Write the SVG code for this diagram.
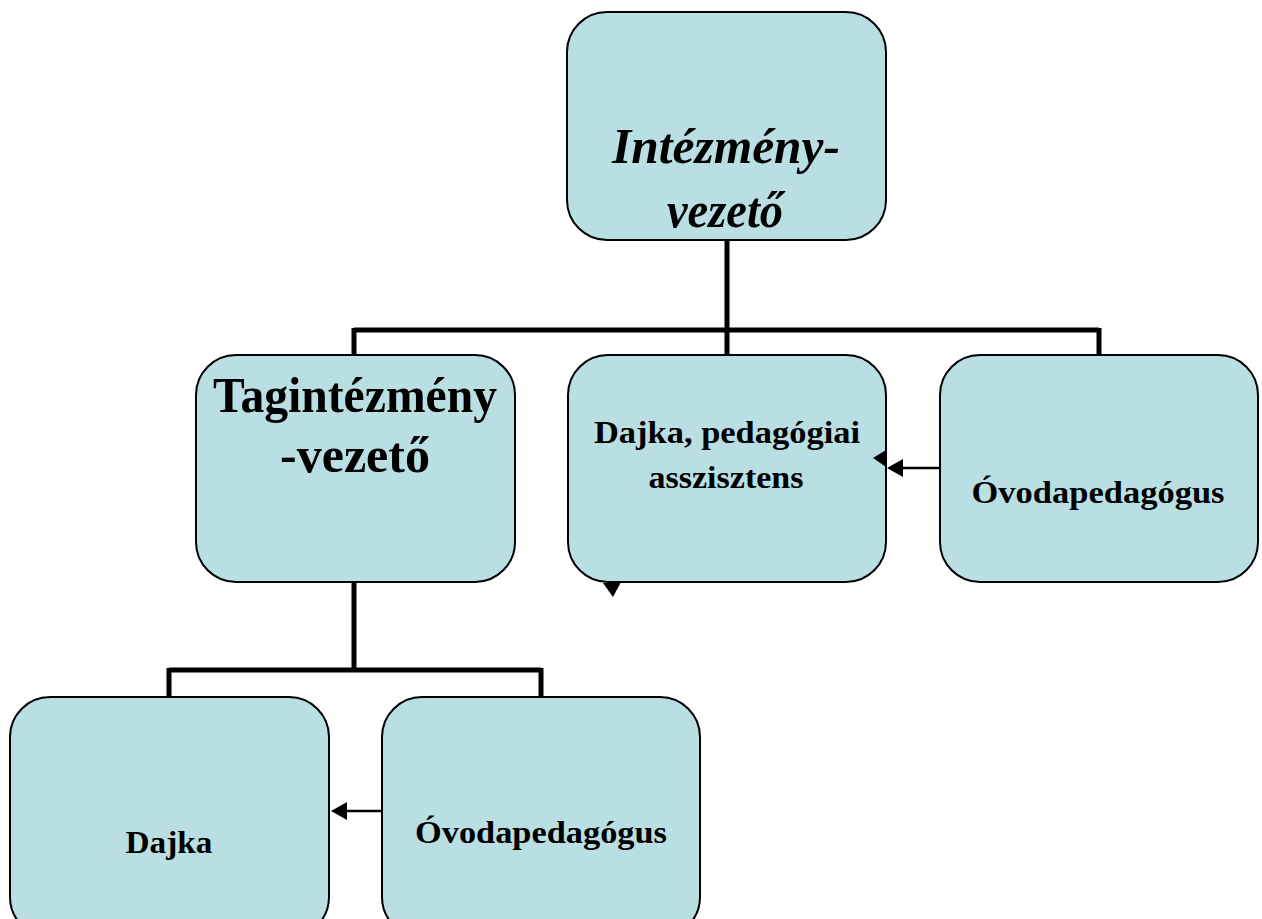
<svg xmlns="http://www.w3.org/2000/svg" width="1262" height="919" viewBox="0 0 1262 919">
<style>
.box{fill:#badfe3;stroke:#000;stroke-width:2}
.t{font-family:"Liberation Serif","Times New Roman",serif;font-weight:bold;fill:#000;text-anchor:middle}
.big{font-size:50px}
.sm{font-size:31px}
.conn{fill:none;stroke:#000;stroke-width:5}
.arr{fill:none;stroke:#000;stroke-width:2.5}
</style>
<rect width="1262" height="919" fill="#fff"/>
<g id="n-intezmenyvezeto">
<rect class="box" x="567" y="12" width="319" height="228" rx="40"/>
<text class="t big" x="726" y="163" font-style="italic" textLength="228" lengthAdjust="spacingAndGlyphs">Intézmény-</text>
<text class="t big" x="725" y="227" font-style="italic" textLength="116" lengthAdjust="spacingAndGlyphs">vezető</text>
</g>
<g id="n-tagintezmenyvezeto">
<rect class="box" x="196" y="355" width="319" height="227" rx="40"/>
<text class="t big" x="355" y="412" textLength="284" lengthAdjust="spacingAndGlyphs">Tagintézmény</text>
<text class="t big" x="355" y="472">-vezető</text>
</g>
<g id="n-dajka-ped">
<rect class="box" x="568" y="355" width="318" height="227" rx="40"/>
<text class="t sm" x="727" y="443" textLength="266" lengthAdjust="spacingAndGlyphs">Dajka, pedagógiai</text>
<text class="t sm" x="726" y="488" textLength="155" lengthAdjust="spacingAndGlyphs">asszisztens</text>
</g>
<g id="n-ovoda1">
<rect class="box" x="940" y="355" width="318" height="227" rx="40"/>
<text class="t sm" x="1098" y="503" textLength="253" lengthAdjust="spacingAndGlyphs">Óvodapedagógus</text>
</g>
<g id="n-dajka">
<rect class="box" x="10" y="697" width="319" height="240" rx="40"/>
<text class="t sm" x="169" y="853" textLength="87" lengthAdjust="spacingAndGlyphs">Dajka</text>
</g>
<g id="n-ovoda2">
<rect class="box" x="382" y="697" width="318" height="240" rx="40"/>
<text class="t sm" x="541" y="843" textLength="252" lengthAdjust="spacingAndGlyphs">Óvodapedagógus</text>
</g>
<g id="connectors">
<path class="conn" d="M727,241 V330 M354,330 H1099 M354,328 V354 M727,330 V354 M1099,328 V354"/>
<path class="conn" d="M354,583 V670 M169,670 H541 M169,668 V696 M541,668 V696"/>
<line class="arr" x1="940" y1="468" x2="895" y2="468"/>
<path d="M887,468 L903,459 L903,477 Z" fill="#000"/>
<path d="M873,458 L886,450 L886,467 Z" fill="#000"/>
<path d="M613,597 L603,583 L621,582 Z" fill="#000"/>
<line class="arr" x1="382" y1="811" x2="340" y2="811"/>
<path d="M331,811 L347,802 L347,820 Z" fill="#000"/>
</g>
</svg>
